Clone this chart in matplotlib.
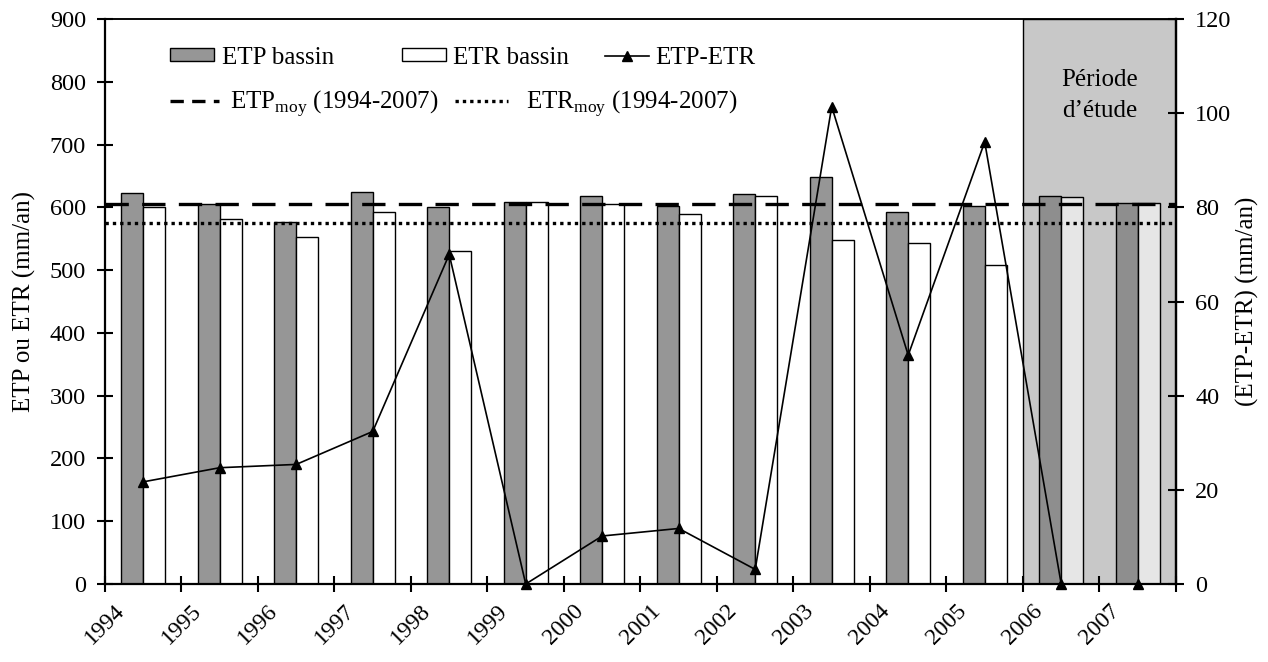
import numpy as np
import matplotlib.pyplot as plt
from matplotlib.patches import Patch
from matplotlib.lines import Line2D

plt.rcParams['font.family'] = ['Liberation Serif', 'DejaVu Serif']
plt.rcParams['mathtext.fontset'] = 'custom'
plt.rcParams['mathtext.rm'] = 'Liberation Serif'

# Données annuelles (mm/an)
annees = ['1994', '1995', '1996', '1997', '1998', '1999', '2000',
          '2001', '2002', '2003', '2004', '2005', '2006', '2007']
etp = [623, 605, 577, 625, 600, 609, 618, 602, 621, 648, 592, 602, 618, 607]
etr = [600, 581, 553, 592, 531, 608, 606, 590, 618, 548, 543, 508, 617, 607]
ecart = [21.7, 24.7, 25.4, 32.4, 70, 0, 10.2, 11.8, 3.1, 101.4, 48.6, 93.9, 0, 0]
etp_moy = 606
etr_moy = 575
debut_etude = '2006'

n = len(annees)
x = np.arange(n)
i0 = annees.index(debut_etude)
largeur = 0.29
fs = 18

col_etp = ['#969696' if i < i0 else '#8e8e8e' for i in range(n)]
col_etr = ['white' if i < i0 else '#e6e6e6' for i in range(n)]

fig = plt.figure(figsize=(12.68, 6.62), dpi=100)
ax = fig.add_axes([0.0828, 0.1178, 0.8446, 0.8535])

# période d'étude en fond
ax.axvspan(i0 - 0.5, n - 0.5, facecolor='#c8c8c8', edgecolor='black', lw=1, zorder=0)

ax.bar(x - largeur / 2, etp, largeur, color=col_etp, edgecolor='black', lw=1, zorder=2)
ax.bar(x + largeur / 2, etr, largeur, color=col_etr, edgecolor='black', lw=1, zorder=2)
ax.axhline(etp_moy, color='black', lw=2.4, ls=(0, (7, 4)), zorder=3)
ax.axhline(etr_moy, color='black', lw=2.4, ls=(0, (1, 1.2)), zorder=3)

ax.set_xlim(-0.5, n - 0.5)
ax.set_ylim(0, 900)
ax.set_yticks(np.arange(0, 901, 100))
ax.set_xticks(np.arange(n + 1) - 0.5)
ax.set_xticklabels(annees + [''], rotation=45, ha='center')
ax.tick_params(axis='both', direction='inout', length=11.5, width=1.5, labelsize=17.5)
ax.tick_params(axis='x', pad=6, labelsize=17)
ax.tick_params(axis='y', pad=8)
ax.set_ylabel('ETP ou ETR (mm/an)', fontsize=18, labelpad=10)
for s in ['left', 'bottom', 'right']:
    ax.spines[s].set_linewidth(1.6)
ax.spines['top'].set_linewidth(1.1)

ax.text(i0 + 0.5, 778, 'Période\nd\u2019étude', ha='center', va='center',
        fontsize=fs, linespacing=1.5)

ax2 = ax.twinx()
ax2.plot(x, ecart, color='black', lw=1.2, marker='^', ms=7, zorder=4, clip_on=False)
ax2.set_ylim(0, 120)
ax2.set_yticks(np.arange(0, 121, 20))
ax2.tick_params(axis='y', direction='inout', length=11.5, width=1.5, labelsize=17.5, pad=8)
ax2.set_ylabel('(ETP-ETR) (mm/an)', fontsize=18, labelpad=3)
ax2.spines['right'].set_linewidth(1.6)
ax2.spines['left'].set_visible(False)
ax2.spines['bottom'].set_visible(False)
ax2.spines['top'].set_linewidth(1.1)

# légende
entrees = [
    (Patch(facecolor='#969696', edgecolor='black'), 'ETP bassin', 0.134, 0.913, 1.75, 0.35),
    (Patch(facecolor='white', edgecolor='black'), 'ETR bassin', 0.317, 0.913, 1.75, 0.3),
    (Line2D([], [], color='black', lw=1.2, marker='^', ms=7), 'ETP-ETR', 0.477, 0.913, 1.75, 0.25),
    (Line2D([], [], color='black', lw=2.4, ls=(0, (4, 2.5))),
     'ETP$_{\\mathregular{moy}}$ (1994-2007)', 0.134, 0.843, 1.95, 0.45),
    (Line2D([], [], color='black', lw=2.4, ls=(0, (1, 1.2))),
     'ETR$_{\\mathregular{moy}}$ (1994-2007)', 0.359, 0.843, 2.1, 0.75),
]
for h, lab, fx, fy, hl, tp in entrees:
    fig.legend([h], [lab], loc='center left', bbox_to_anchor=(fx, fy),
               frameon=False, fontsize=fs, handlelength=hl,
               handleheight=0.4, handletextpad=tp, borderpad=0,
               borderaxespad=0)

fig.savefig('out.png', dpi=100)
